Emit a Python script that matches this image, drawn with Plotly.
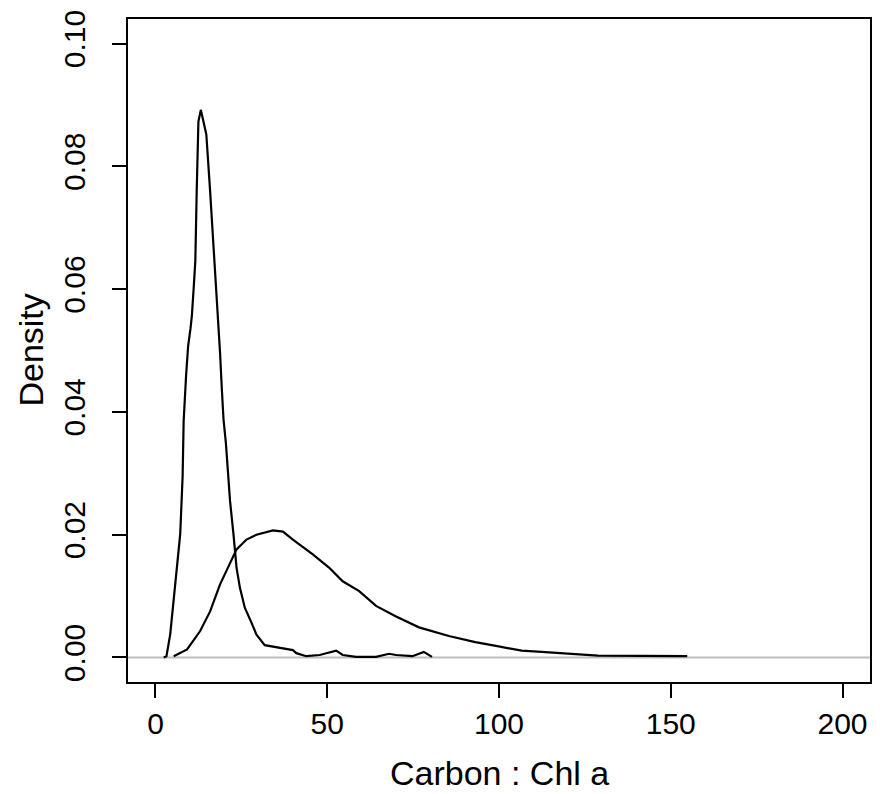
import plotly.graph_objects as go

# Narrow, sharply peaked density curve
narrow_x = [2.4, 3.2, 4.3, 5.3, 6.3, 7.2, 7.9, 8.2, 8.9, 9.5, 10.2, 10.6, 11.1, 11.6,
            12.0, 12.5, 13.2, 14.0, 14.8, 15.9, 17.1, 17.7, 18.3, 18.8, 19.3, 19.8, 20.5,
            21.7, 22.7, 23.6, 24.6, 26.0, 28.0, 29.4, 31.8, 35.2, 40.0, 41.0, 43.9, 47.8,
            50.7, 52.6, 54.5, 58.4, 64.2, 68.0, 70.0, 74.8, 78.1, 80.5]
narrow_y = [0.0, 0.0002, 0.0038, 0.0092, 0.0146, 0.0201, 0.0295, 0.0385, 0.0458, 0.0507,
            0.0536, 0.0557, 0.0600, 0.0646, 0.0759, 0.0873, 0.0892, 0.0871, 0.0852, 0.0760,
            0.0647, 0.0603, 0.0554, 0.0496, 0.0439, 0.0388, 0.0349, 0.0255, 0.0201, 0.0146,
            0.0113, 0.0081, 0.0056, 0.0037, 0.0020, 0.0017, 0.0012, 0.0007, 0.0002, 0.0004,
            0.0009, 0.0011, 0.0004, 0.0001, 0.0001, 0.0006, 0.0004, 0.0002, 0.0009, 0.0001]

# Broad, right-skewed density curve
broad_x = [5.3, 9.2, 13.0, 15.9, 18.8, 21.7, 23.6, 26.5, 29.4, 34.2, 37.1, 40.0, 45.8, 50.6,
           54.5, 59.3, 64.2, 69.9, 76.7, 85.4, 93.1, 99.9, 106.6, 112.4, 120.1, 128.8, 154.8]
broad_y = [0.0002, 0.0013, 0.0043, 0.0075, 0.0119, 0.0154, 0.0176, 0.0192, 0.0200, 0.0207,
           0.0205, 0.0192, 0.0168, 0.0146, 0.0124, 0.0108, 0.0084, 0.0067, 0.0049, 0.0035,
           0.0025, 0.0018, 0.0011, 0.0009, 0.0006, 0.0003, 0.0002]

x_ticks = [0, 50, 100, 150, 200]
y_ticks = [0.00, 0.02, 0.04, 0.06, 0.08, 0.10]
y_tick_text = ["0.00", "0.02", "0.04", "0.06", "0.08", "0.10"]

FONT = "Liberation Sans, Arial, Helvetica, sans-serif"

fig = go.Figure()
fig.add_trace(go.Scatter(x=narrow_x, y=narrow_y, mode="lines",
                         line=dict(color="black", width=2.2), showlegend=False))
fig.add_trace(go.Scatter(x=broad_x, y=broad_y, mode="lines",
                         line=dict(color="black", width=2.2), showlegend=False))

fig.add_shape(type="line", xref="paper", yref="y", x0=0, x1=1, y0=0, y1=0,
              line=dict(color="#bebebe", width=2), layer="below")

fig.update_layout(
    width=880, height=794,
    margin=dict(l=128, r=8, t=19, b=112),
    paper_bgcolor="white", plot_bgcolor="white",
    font=dict(family=FONT, color="black", size=30),
    xaxis=dict(range=[-8, 208], tickvals=x_ticks, ticks="outside", ticklen=14,
               tickwidth=2, tickcolor="black", showline=True, mirror=True,
               linecolor="black", linewidth=2, showgrid=False, zeroline=False,
               tickfont=dict(size=30)),
    yaxis=dict(range=[-0.004, 0.104], tickvals=y_ticks, ticktext=y_tick_text,
               ticks="outside", ticklen=14, tickwidth=2, tickcolor="black",
               showline=True, mirror=True, linecolor="black", linewidth=2,
               showgrid=False, zeroline=False, tickangle=-90, ticklabelstandoff=15,
               tickfont=dict(size=30)),
    annotations=[
        dict(text="Carbon : Chl a", xref="paper", yref="paper", x=0.5, y=-0.138,
             xanchor="center", yanchor="middle", showarrow=False, font=dict(size=34)),
        dict(text="Density", xref="paper", yref="paper", x=-0.132, y=0.5,
             xanchor="center", yanchor="middle", showarrow=False, textangle=-90,
             font=dict(size=34)),
    ],
)

fig.write_html("out.html")
